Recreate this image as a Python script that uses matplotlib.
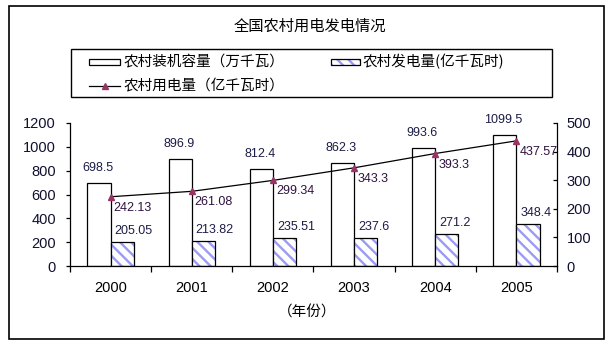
import matplotlib
matplotlib.use("Agg")
import matplotlib.pyplot as plt
import numpy as np
from matplotlib.patches import Rectangle
from matplotlib.lines import Line2D

plt.rcParams['font.family'] = ['Liberation Sans', 'Noto Sans CJK SC', 'DejaVu Sans']
plt.rcParams['hatch.linewidth'] = 1.7

# ---- data ----
years = ['2000', '2001', '2002', '2003', '2004', '2005']
capacity = [698.5, 896.9, 812.4, 862.3, 993.6, 1099.5]      # 农村装机容量（万千瓦）
generation = [205.05, 213.82, 235.51, 237.6, 271.2, 348.4]   # 农村发电量(亿千瓦时)
usage = [242.13, 261.08, 299.34, 343.3, 393.3, 437.57]       # 农村用电量（亿千瓦时）
capacity_labels = ['698.5', '896.9', '812.4', '862.3', '993.6', '1099.5']
generation_labels = ['205.05', '213.82', '235.51', '237.6', '271.2', '348.4']
usage_labels = ['242.13', '261.08', '299.34', '343.3', '393.3', '437.57']
left_ticks = [0, 200, 400, 600, 800, 1000, 1200]
right_ticks = [0, 100, 200, 300, 400, 500]
title = '全国农村用电发电情况'
names = ['农村装机容量（万千瓦）', '农村发电量(亿千瓦时)', '农村用电量（亿千瓦时）']
xlabel = '（年份）'

W, H = 611, 347
fig = plt.figure(figsize=(W / 100, H / 100), dpi=100)
fx = lambda p: p / W
fy = lambda p: 1 - p / H

HATCH_C = '#9b9bf5'
HATCH = '\\\\\\'
MARK_C = '#993366'
LBL_C = '#1c1c48'
LINE_LBL_C = '#2e1240'
CJK = ['Noto Sans CJK SC', 'DejaVu Sans']

ax = fig.add_axes([fx(70), fy(266), fx(557) - fx(70), fy(123) - fy(266)])
ax.patch.set_visible(False)
x = np.arange(len(years))
w = 0.285

ax.bar(x - w / 2, capacity, w, facecolor='white', edgecolor='black', linewidth=0.9, zorder=2)
ax.bar(x + w / 2, generation, w, facecolor='white', edgecolor=HATCH_C, linewidth=0,
       hatch=HATCH, zorder=2)
ax.bar(x + w / 2, generation, w, facecolor='none', edgecolor='black', linewidth=0.9, zorder=3)

for i, (v, s) in enumerate(zip(capacity, capacity_labels)):
    ax.annotate(s, (x[i] - w / 2, v), xytext=(-1.5, 15), textcoords='offset pixels',
                ha='center', va='center', fontsize=9, color=LBL_C)
for i, (v, s) in enumerate(zip(generation, generation_labels)):
    ax.annotate(s, (x[i], v), xytext=(4, 11), textcoords='offset pixels',
                ha='left', va='center', fontsize=9, color=LBL_C)

ax.set_xlim(-0.5, len(years) - 0.5)
ax.set_ylim(0, 1200)
ax.set_yticks(left_ticks)
ax.set_xticks(x, years)
ax.set_xticks(np.arange(len(years) + 1) - 0.5, minor=True)
ax.tick_params(axis='x', which='major', length=0, pad=11, labelsize=10.5, labelcolor='black')
ax.tick_params(axis='x', which='minor', length=4, width=0.9, direction='out')
ax.tick_params(axis='y', length=3, width=0.9, direction='out', pad=7, labelsize=10.5,
               labelcolor='#101030')
for sp in ['top', 'right']:
    ax.spines[sp].set_visible(False)
for sp in ['left', 'bottom']:
    ax.spines[sp].set_linewidth(0.9)

ax2 = ax.twinx()
ax2.plot(x, usage, color='black', linewidth=0.9, marker='^', markersize=5,
         markerfacecolor=MARK_C, markeredgecolor=MARK_C, zorder=4)
for i, (v, s) in enumerate(zip(usage, usage_labels)):
    ax2.annotate(s, (x[i], v), xytext=(3, -11), textcoords='offset pixels',
                 ha='left', va='center', fontsize=9, color=LINE_LBL_C)
ax2.set_ylim(0, 500)
ax2.set_yticks(right_ticks)
ax2.tick_params(axis='y', length=3, width=0.9, direction='in', pad=7, labelsize=10.5,
                labelcolor='#101030')
for sp in ['top', 'left', 'bottom']:
    ax2.spines[sp].set_visible(False)
ax2.spines['right'].set_linewidth(0.9)

# titles and axis label
fig.text(fx(310), fy(26), title, ha='center', va='center', fontsize=11, family=CJK)
fig.text(fx(307), fy(313), xlabel, ha='center', va='center', fontsize=10.5, family=CJK)

# outer border
fig.patches.append(Rectangle((fx(9), fy(339)), fx(604) - fx(9), fy(6) - fy(339),
                             transform=fig.transFigure, facecolor='none',
                             edgecolor='black', linewidth=1.2))

# legend (drawn in figure coordinates)
fig.patches.append(Rectangle((fx(71), fy(97)), fx(552) - fx(71), fy(49) - fy(97),
                             transform=fig.transFigure, facecolor='white',
                             edgecolor='black', linewidth=1.0))
fig.patches.append(Rectangle((fx(89), fy(65)), fx(120) - fx(89), fy(59) - fy(65),
                             transform=fig.transFigure, facecolor='white',
                             edgecolor='black', linewidth=0.9))
fig.text(fx(124), fy(62), names[0], ha='left', va='center', fontsize=10.5, family=CJK)
fig.patches.append(Rectangle((fx(331), fy(65)), fx(360) - fx(331), fy(59) - fy(65),
                             transform=fig.transFigure, facecolor='white',
                             edgecolor=HATCH_C, linewidth=0, hatch=HATCH))
fig.patches.append(Rectangle((fx(331), fy(65)), fx(360) - fx(331), fy(59) - fy(65),
                             transform=fig.transFigure, facecolor='none',
                             edgecolor='black', linewidth=0.9))
fig.text(fx(363), fy(62), names[1], ha='left', va='center', fontsize=10.5, family=CJK)
fig.lines.append(Line2D([fx(89), fx(120)], [fy(86), fy(86)], transform=fig.transFigure,
                        color='black', linewidth=0.9))
fig.lines.append(Line2D([fx(104.5)], [fy(86)], transform=fig.transFigure, marker='^',
                        markersize=5, color=MARK_C, linestyle='none'))
fig.text(fx(124), fy(86), names[2], ha='left', va='center', fontsize=10.5, family=CJK)

fig.savefig('out.png', dpi=100)
